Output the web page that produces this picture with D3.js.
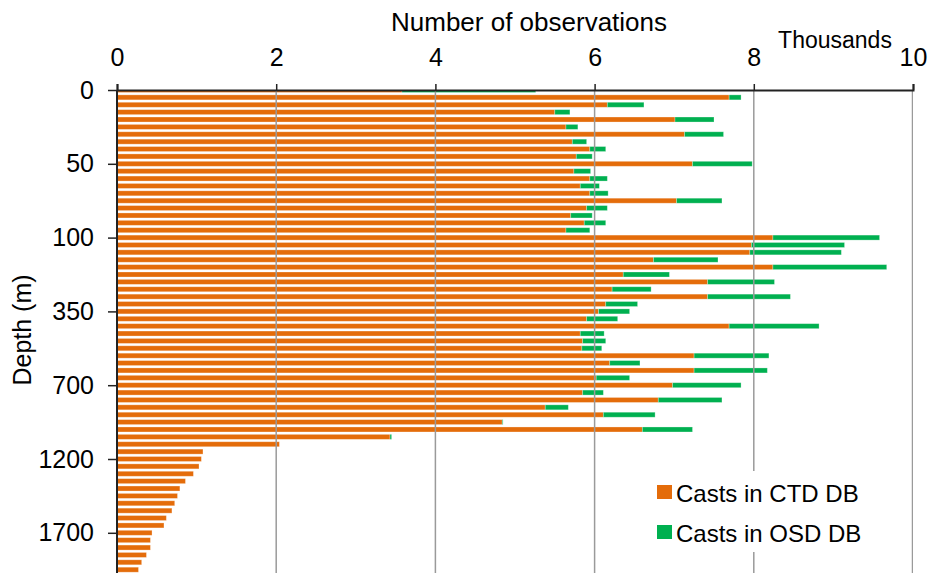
<!DOCTYPE html>
<html>
<head>
<meta charset="utf-8">
<script src="https://cdn.jsdelivr.net/npm/d3@7"></script>
<style>
  body { margin: 0; background: #fff; }
  svg { display: block; font-family: Arial, "Liberation Sans", sans-serif; }
</style>
</head>
<body>
<div class="root"></div>
<script>
// standard depth levels (m), one bar per level
var depths = [0, 5, 10, 15, 20, 25, 30, 35, 40, 45, 50, 55, 60, 65, 70, 75, 80, 85, 90, 95, 100,
  125, 150, 175, 200, 225, 250, 275, 300, 325, 350, 375, 400, 425, 450, 475, 500,
  550, 600, 650, 700, 750, 800, 850, 900, 950, 1000, 1050, 1100, 1150, 1200,
  1250, 1300, 1350, 1400, 1450, 1500, 1550, 1600, 1650, 1700, 1750, 1800, 1850, 1900, 1950];

// casts in CTD DB (thousands)
var ctd = [3.58, 7.69, 6.16, 5.50, 7.01, 5.64, 7.13, 5.72, 5.94, 5.77, 7.23, 5.74, 5.94, 5.82, 5.94, 7.03, 5.90, 5.70, 5.87, 5.64, 8.24,
  7.97, 7.95, 6.74, 8.24, 6.36, 7.42, 6.22, 7.42, 6.14, 6.05, 5.90, 7.69, 5.82, 5.85, 5.84, 7.25,
  6.19, 7.25, 6.02, 6.98, 5.85, 6.80, 5.38, 6.11, 4.84, 6.60, 3.43, 2.04, 1.08, 1.06,
  1.03, 0.96, 0.86, 0.79, 0.76, 0.725, 0.69, 0.62, 0.59, 0.44, 0.42, 0.42, 0.37, 0.31, 0.27];

// casts in OSD DB (thousands)
var osd = [1.68, 0.15, 0.46, 0.19, 0.49, 0.15, 0.49, 0.18, 0.20, 0.20, 0.75, 0.21, 0.22, 0.24, 0.23, 0.57, 0.26, 0.27, 0.27, 0.30, 1.34,
  1.17, 1.15, 0.81, 1.43, 0.58, 0.84, 0.49, 1.04, 0.40, 0.39, 0.39, 1.13, 0.30, 0.29, 0.25, 0.94,
  0.38, 0.92, 0.42, 0.86, 0.26, 0.80, 0.29, 0.65, 0.01, 0.63, 0.02, 0, 0, 0,
  0, 0, 0, 0, 0, 0, 0, 0, 0, 0, 0, 0, 0, 0, 0];

var xTicks = [0, 2, 4, 6, 8, 10];
var yTicks = [0, 50, 100, 350, 700, 1200, 1700];
var seriesKeys = ['ctd', 'osd'];
var seriesNames = ['Casts in CTD DB', 'Casts in OSD DB'];
var colors = ['#E46C0A', '#00B050'];

function drawChart() {
  var w = 929, h = 573;
  var left = 117, right = 913, top = 90;
  var rowStep = 7.38, barH = 5;

  var rows = depths.map(function(d, i) {
    return {depth: d, ctd: ctd[i], osd: osd[i]};
  });

  var x = d3.scaleLinear().domain([0, 10]).range([left, right]);
  var y = d3.scalePoint()
    .domain(depths)
    .range([top, top + (depths.length - 1) * rowStep]);

  var svg = d3.select('.root').append('svg')
    .attr('width', w)
    .attr('height', h);

  svg.append('clipPath').attr('id', 'plot-clip')
    .append('rect')
    .attr('x', left).attr('y', top)
    .attr('width', right - left).attr('height', h - top);

  var stacked = d3.stack().keys(seriesKeys)(rows);

  var plot = svg.append('g').attr('clip-path', 'url(#plot-clip)');

  plot.selectAll('g.series')
    .data(stacked)
    .enter().append('g')
      .attr('class', 'series')
      .attr('fill', function(d, i) { return colors[i]; })
    .selectAll('rect')
      .data(function(d) { return d; })
      .enter().append('rect')
        .attr('x', function(d) { return x(d[0]); })
        .attr('y', function(d) { return y(d.data.depth) - barH / 2; })
        .attr('width', function(d) { return Math.max(0, x(d[1]) - x(d[0])); })
        .attr('height', barH)
        .attr('stroke', '#fff')
        .attr('stroke-opacity', 0.35)
        .attr('stroke-width', 0.8);

  // vertical gridlines
  plot.selectAll('line.grid')
    .data(xTicks.filter(function(t) { return t > 0; }))
    .enter().append('line')
      .attr('class', 'grid')
      .attr('x1', function(d) { return x(d); })
      .attr('x2', function(d) { return x(d); })
      .attr('y1', top)
      .attr('y2', h)
      .attr('stroke', '#9a9a9a')
      .attr('stroke-width', function(d) { return d === 10 ? 2.5 : 1.5; });

  // top axis
  var xAxis = svg.append('g')
    .attr('transform', 'translate(0,' + top + ')')
    .call(d3.axisTop(x).tickValues(xTicks).tickSize(6).tickPadding(18).tickFormat(d3.format('d')));
  xAxis.select('.domain').attr('stroke', '#222').attr('stroke-width', 2);
  xAxis.selectAll('.tick line').attr('stroke', '#222').attr('stroke-width', 1.5);
  xAxis.selectAll('.tick text').attr('font-size', 25).attr('fill', '#000')
    .attr('font-family', 'Arial, "Liberation Sans", sans-serif');

  // left axis
  var yAxis = svg.append('g')
    .attr('transform', 'translate(' + left + ',0)')
    .call(d3.axisLeft(y).tickValues(yTicks).tickSize(9).tickPadding(14).tickSizeOuter(0));
  yAxis.select('.domain').attr('stroke', '#222').attr('stroke-width', 2)
    .attr('d', 'M0,' + top + 'V' + h);
  yAxis.selectAll('.tick line').attr('stroke', '#222').attr('stroke-width', 1.5);
  yAxis.selectAll('.tick text').attr('font-size', 25).attr('fill', '#000')
    .attr('font-family', 'Arial, "Liberation Sans", sans-serif');

  // titles
  svg.append('text')
    .attr('x', 529).attr('y', 31)
    .attr('text-anchor', 'middle')
    .attr('font-size', 26)
    .text('Number of observations');

  svg.append('text')
    .attr('x', 835).attr('y', 48)
    .attr('text-anchor', 'middle')
    .attr('font-size', 23)
    .text('Thousands');

  svg.append('text')
    .attr('transform', 'translate(31,330) rotate(-90)')
    .attr('text-anchor', 'middle')
    .attr('font-size', 25)
    .text('Depth (m)');

  // legend
  var legend = svg.append('g');
  legend.append('rect')
    .attr('x', 645).attr('y', 471)
    .attr('width', 240).attr('height', 81)
    .attr('fill', '#fff');

  var items = legend.selectAll('g.item')
    .data(seriesNames)
    .enter().append('g')
      .attr('class', 'item')
      .attr('transform', function(d, i) { return 'translate(657,' + (485 + i * 40) + ')'; });

  items.append('rect')
    .attr('width', 15).attr('height', 14)
    .attr('fill', function(d, i) { return colors[i]; });

  items.append('text')
    .attr('x', 19).attr('y', 16.5)
    .attr('font-size', 24)
    .text(function(d) { return d; });
}

window.onload = function() {
  drawChart();
};
</script>
</body>
</html>
